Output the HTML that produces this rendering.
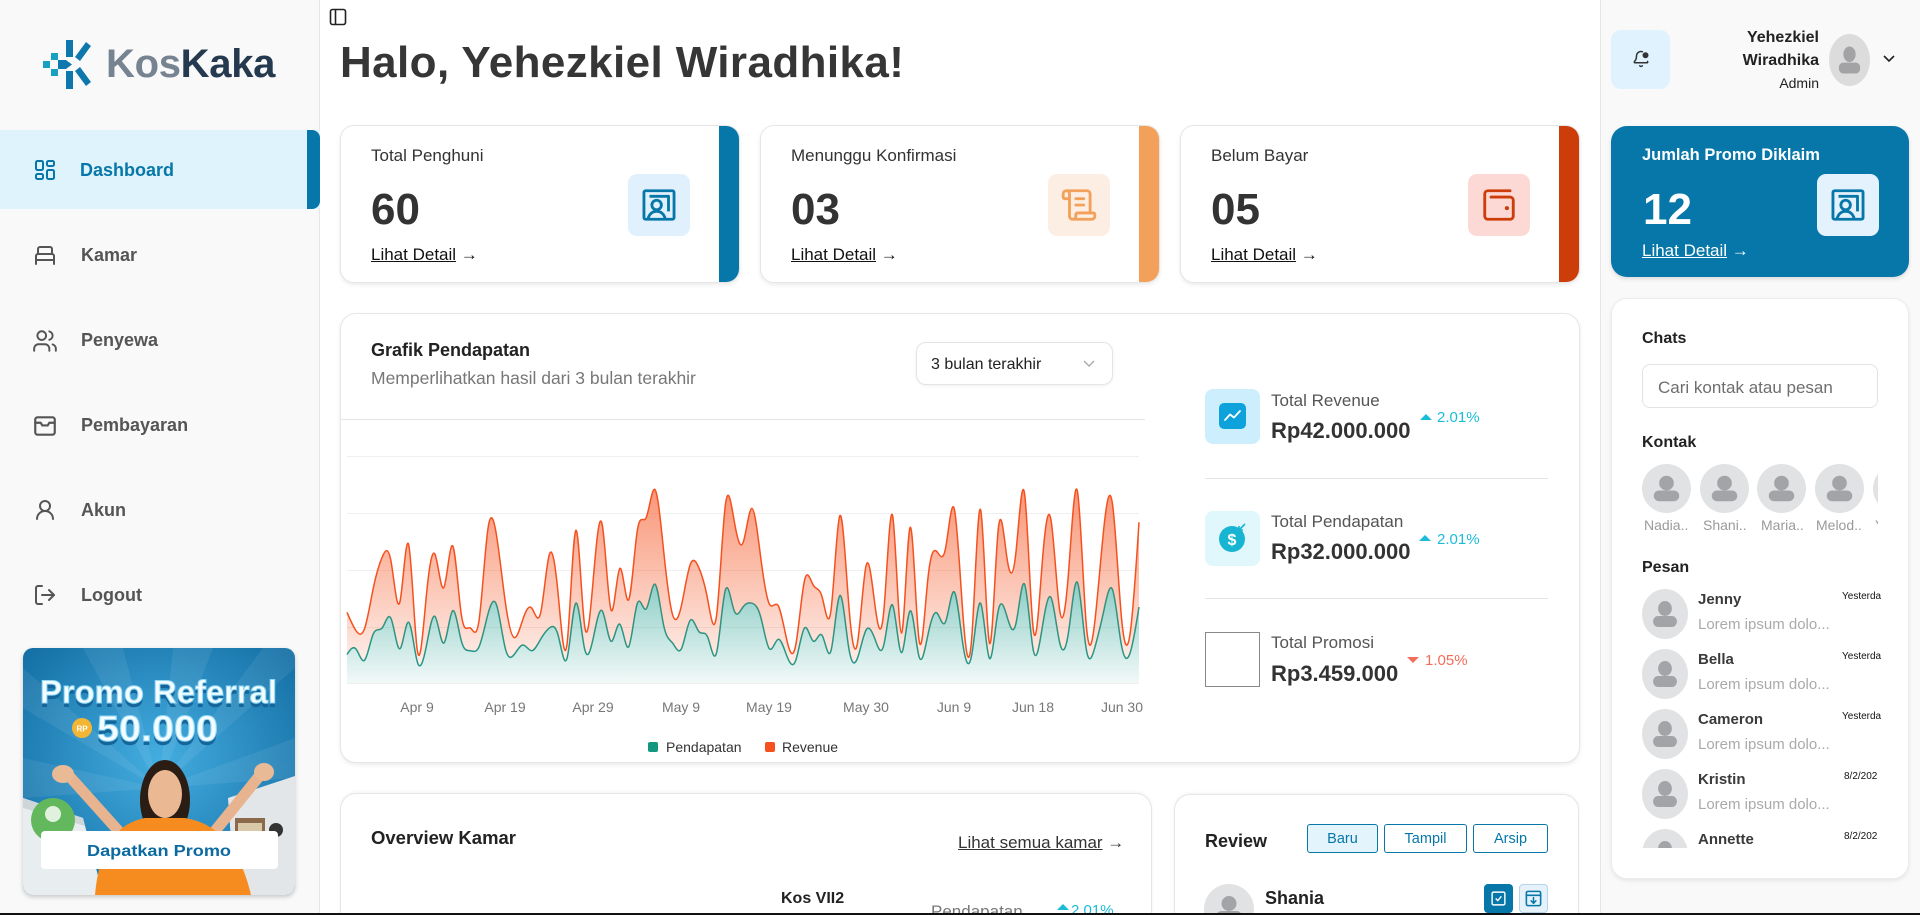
<!DOCTYPE html>
<html><head><meta charset="utf-8">
<style>
*{box-sizing:border-box;margin:0;padding:0}
html,body{width:1920px;height:915px;overflow:hidden;background:#fff;font-family:"Liberation Sans",Arial,sans-serif;color:#333}
#root{position:relative;width:1920px;height:915px;overflow:hidden;background:#fff}
.a{position:absolute}
.t{position:absolute;line-height:1;white-space:nowrap}
.b{font-weight:bold}
.card{position:absolute;background:#fff;border:1px solid #e6e6e6;border-radius:14px;box-shadow:0 2px 4px rgba(0,0,0,.08);overflow:hidden}
.strip{position:absolute;right:0;top:0;width:20px;height:100%}
.ib{position:absolute;width:62px;height:62px;border-radius:9px;display:flex;align-items:center;justify-content:center}
.u{text-decoration:underline}
.nav{font-size:18px;font-weight:bold;color:#555}
.btn{position:absolute;height:29px;border:1px solid #0677a8;border-radius:3px;color:#0677a8;font-size:14.5px;display:flex;align-items:center;justify-content:center;background:#fff}
svg text{font-family:"Liberation Sans",Arial,sans-serif}
</style></head><body>
<div id="root">

<!-- Sidebar -->
<div class="a" style="left:0;top:0;width:320px;height:915px;background:#f9f9f9;border-right:1px solid #e6e6e6"></div>
<svg class="a" style="left:0;top:0" width="100" height="100">
<rect x="66" y="40" width="7" height="17" fill="#0e77ad"/>
<polygon points="75,57 86,42 91,46 80,61" fill="#0e77ad"/>
<polygon points="80,67 91,82 86,86 75,71" fill="#0e77ad"/>
<rect x="66" y="71" width="7" height="18" fill="#0e77ad"/>
<rect x="43" y="61" width="7" height="7" fill="#17a0c0"/>
<rect x="51" y="53" width="7" height="7" fill="#17a0c0"/>
<rect x="51" y="69" width="7" height="7" fill="#17a0c0"/>
<polygon points="58,60 66,60 72,64.5 66,69 58,69" fill="#0e77ad"/>
</svg>
<div class="t b" style="left:106px;top:44px;font-size:40px;letter-spacing:-0.3px"><span style="color:#768391">Kos</span><span style="color:#263a4f">Kaka</span></div>

<div class="a" style="left:0;top:130px;width:320px;height:79px;background:#dff3fd"></div>
<div class="a" style="left:307px;top:130px;width:13px;height:79px;background:#0677a8;border-radius:0 8px 8px 0"></div>

<svg class="a" style="left:33px;top:158px" width="24" height="24" viewBox="0 0 24 24" fill="none" stroke="#0677a8" stroke-width="2" stroke-linejoin="round"><rect x="3" y="3" width="7" height="9" rx="1.5"/><rect x="14" y="3" width="7" height="5" rx="1.5"/><rect x="14" y="12" width="7" height="9" rx="1.5"/><rect x="3" y="16" width="7" height="5" rx="1.5"/></svg>
<div class="t nav" style="left:80px;top:161px;color:#0677a8">Dashboard</div>

<svg class="a" style="left:33px;top:243px" width="24" height="24" viewBox="0 0 24 24" fill="none" stroke="#555" stroke-width="2" stroke-linecap="round" stroke-linejoin="round"><path d="M3 21v-8a2 2 0 0 1 2-2h14a2 2 0 0 1 2 2v8"/><path d="M5 11V6a2 2 0 0 1 2-2h10a2 2 0 0 1 2 2v5"/><path d="M3 17h18"/></svg>
<div class="t nav" style="left:81px;top:246px">Kamar</div>

<svg class="a" style="left:32px;top:328px" width="26" height="26" viewBox="0 0 24 24" fill="none" stroke="#555" stroke-width="1.8" stroke-linecap="round" stroke-linejoin="round"><path d="M16 21v-2a4 4 0 0 0-4-4H6a4 4 0 0 0-4 4v2"/><circle cx="9" cy="7" r="4"/><path d="M22 21v-2a4 4 0 0 0-3-3.87"/><path d="M16 3.13a4 4 0 0 1 0 7.75"/></svg>
<div class="t nav" style="left:81px;top:331px">Penyewa</div>

<svg class="a" style="left:32px;top:413px" width="26" height="26" viewBox="0 0 24 24" fill="none" stroke="#555" stroke-width="2" stroke-linecap="round" stroke-linejoin="round"><rect x="3" y="4" width="18" height="16" rx="2"/><path d="M3 9h5l1.5 2.5h5L16 9h5"/></svg>
<div class="t nav" style="left:81px;top:416px">Pembayaran</div>

<svg class="a" style="left:33px;top:498px" width="24" height="24" viewBox="0 0 24 24" fill="none" stroke="#555" stroke-width="2" stroke-linecap="round"><circle cx="12" cy="8" r="5"/><path d="M20 21a8 8 0 0 0-16 0"/></svg>
<div class="t nav" style="left:81px;top:501px">Akun</div>

<svg class="a" style="left:33px;top:583px" width="24" height="24" viewBox="0 0 24 24" fill="none" stroke="#555" stroke-width="2" stroke-linecap="round" stroke-linejoin="round"><path d="M9 21H5a2 2 0 0 1-2-2V5a2 2 0 0 1 2-2h4"/><path d="M16 17l5-5-5-5"/><path d="M21 12H9"/></svg>
<div class="t nav" style="left:81px;top:586px">Logout</div>

<!-- promo banner -->
<div class="a" style="left:23px;top:648px;width:272px;height:247px;border-radius:10px;box-shadow:0 2px 5px rgba(0,0,0,.2);overflow:hidden">
<svg width="272" height="247" viewBox="0 0 272 247">
<defs>
<radialGradient id="pbg" cx="0.5" cy="0.45" r="0.75"><stop offset="0" stop-color="#44ade0"/><stop offset="1" stop-color="#0d669c"/></radialGradient>
</defs>
<rect width="272" height="247" fill="url(#pbg)"/>
<g fill="#fff" opacity="0.07">
<polygon points="136,140 60,0 100,0"/><polygon points="136,140 150,0 190,0"/><polygon points="136,140 240,0 272,0 272,20"/><polygon points="136,140 0,20 0,60"/><polygon points="136,140 272,90 272,130"/><polygon points="136,140 0,110 0,150"/>
</g>
<polygon points="0,150 60,170 80,247 0,247" fill="#e8edf0"/>
<polygon points="0,150 60,170 62,178 0,160" fill="#cfd6da"/>
<polygon points="205,150 272,128 272,247 212,247" fill="#e2e6e8"/>
<rect x="212" y="170" width="30" height="50" fill="#8b6a4c"/>
<rect x="215" y="175" width="24" height="18" fill="#d9c9a8"/>
<rect x="215" y="197" width="24" height="18" fill="#b7a07f"/>
<circle cx="253" cy="182" r="7" fill="#333"/>
<circle cx="30" cy="172" r="22" fill="#63b85d"/>
<circle cx="30" cy="166" r="8" fill="#fff" opacity="0.8"/>
<path d="M100 188 L48 130" stroke="#e7b48f" stroke-width="11" stroke-linecap="round"/>
<path d="M188 188 L238 126" stroke="#e7b48f" stroke-width="11" stroke-linecap="round"/>
<ellipse cx="40" cy="126" rx="11" ry="9" fill="#e9ba96"/>
<ellipse cx="241" cy="124" rx="10" ry="9" fill="#e9ba96"/>
<ellipse cx="142" cy="152" rx="25" ry="40" fill="#2b1c14"/>
<ellipse cx="142" cy="146" rx="17" ry="24" fill="#eab993"/>
<path d="M72 247 Q78 178 122 170 L162 170 Q212 178 228 247 Z" fill="#f68c1f"/>
<rect x="18" y="183" width="237" height="38" rx="4" fill="#fff"/>
<text x="136" y="208" text-anchor="middle" font-size="16" font-weight="bold" fill="#0b6aa0" textLength="144" lengthAdjust="spacingAndGlyphs">Dapatkan Promo</text>
<text x="17" y="59" font-size="32" font-weight="bold" fill="#15649a" textLength="237" lengthAdjust="spacingAndGlyphs">Promo Referral</text>
<text x="17" y="55" font-size="32" font-weight="bold" fill="#f4fcff" stroke="#8fd8f5" stroke-width="1" textLength="237" lengthAdjust="spacingAndGlyphs">Promo Referral</text>
<circle cx="59" cy="80" r="10" fill="#f2b534"/>
<text x="59" y="83.5" text-anchor="middle" font-size="8" font-weight="bold" fill="#fff">RP</text>
<text x="74" y="97" font-size="36" font-weight="bold" fill="#15649a" textLength="121" lengthAdjust="spacingAndGlyphs">50.000</text>
<text x="74" y="93" font-size="36" font-weight="bold" fill="#f4fcff" stroke="#8fd8f5" stroke-width="1" textLength="121" lengthAdjust="spacingAndGlyphs">50.000</text>
</svg>
</div>

<!-- Right panel -->
<div class="a" style="left:1600px;top:0;width:320px;height:915px;background:#f9f9f9;border-left:1px solid #e6e6e6"></div>

<!-- toggle icon -->
<svg class="a" style="left:329px;top:8px" width="18" height="18" viewBox="0 0 18 18" fill="none" stroke="#222" stroke-width="1.6"><rect x="1.5" y="1.5" width="15" height="15" rx="2"/><path d="M6.5 1.5v15"/></svg>

<div class="t b" style="left:340px;top:41px;font-size:44px;letter-spacing:0.4px;color:#363636">Halo, Yehezkiel Wiradhika!</div>

<!-- Stat cards -->
<div class="card" style="left:340px;top:125px;width:400px;height:158px"><div class="strip" style="background:#0677a8"></div></div>
<div class="card" style="left:760px;top:125px;width:400px;height:158px"><div class="strip" style="background:#f2a05a"></div></div>
<div class="card" style="left:1180px;top:125px;width:400px;height:158px"><div class="strip" style="background:#cc3d0a"></div></div>

<div class="t" style="left:371px;top:147px;font-size:17px">Total Penghuni</div>
<div class="t b" style="left:371px;top:188px;font-size:44px">60</div>
<div class="t" style="left:371px;top:246px;font-size:17px;color:#111"><span class="u">Lihat Detail</span> →</div>
<div class="ib" style="left:628px;top:174px;background:#e1f0fd"><svg width="38" height="38" viewBox="0 0 24 24" fill="none" stroke="#0677a8" stroke-width="1.8" stroke-linejoin="round"><rect x="2.5" y="3" width="19" height="18" rx="1"/><path d="M6 6.5h12v9.5"/><circle cx="10.5" cy="12" r="3"/><path d="M5 21c.8-3.5 3-5 5.5-5s4.7 1.5 5.5 5"/></svg></div>

<div class="t" style="left:791px;top:147px;font-size:17px">Menunggu Konfirmasi</div>
<div class="t b" style="left:791px;top:188px;font-size:44px">03</div>
<div class="t" style="left:791px;top:246px;font-size:17px;color:#111"><span class="u">Lihat Detail</span> →</div>
<div class="ib" style="left:1048px;top:174px;background:#fdeee4"><svg width="38" height="38" viewBox="0 0 24 24" fill="none" stroke="#f2a05a" stroke-width="1.8" stroke-linecap="round" stroke-linejoin="round"><path d="M15 12h-5"/><path d="M15 8h-5"/><path d="M19 17V5a2 2 0 0 0-2-2H4"/><path d="M8 21h12a2 2 0 0 0 2-2v-1a1 1 0 0 0-1-1H11a1 1 0 0 0-1 1v1a2 2 0 1 1-4 0V5a2 2 0 1 0-4 0v2a1 1 0 0 0 1 1h3"/></svg></div>

<div class="t" style="left:1211px;top:147px;font-size:17px">Belum Bayar</div>
<div class="t b" style="left:1211px;top:188px;font-size:44px">05</div>
<div class="t" style="left:1211px;top:246px;font-size:17px;color:#111"><span class="u">Lihat Detail</span> →</div>
<div class="ib" style="left:1468px;top:174px;background:#fdd9d6"><svg width="38" height="38" viewBox="0 0 24 24" fill="none" stroke="#cc3d0a" stroke-width="1.8" stroke-linecap="round" stroke-linejoin="round"><path d="M17 14h.01" stroke-width="2.6"/><path d="M7 7h12a2 2 0 0 1 2 2v10a2 2 0 0 1-2 2H5a2 2 0 0 1-2-2V5a2 2 0 0 1 2-2h14"/></svg></div>

<!-- Top right -->
<div class="a" style="left:1611px;top:30px;width:59px;height:59px;background:#dff2fd;border-radius:10px"></div>
<svg class="a" style="left:1632px;top:50px" width="18" height="18" viewBox="0 0 24 24" fill="none" stroke="#333" stroke-width="2" stroke-linecap="round" stroke-linejoin="round"><path d="M10.3 21a2 2 0 0 0 3.4 0"/><path d="M13.9 2.3A6 6 0 0 0 6 8c0 4.5-1.4 6-2.7 7.3A1 1 0 0 0 4 17h16a1 1 0 0 0 .7-1.7"/><circle cx="18" cy="7" r="3" fill="#333"/></svg>
<div class="t b" style="right:101px;top:30px;font-size:16px;text-align:right;color:#222">Yehezkiel</div>
<div class="t b" style="right:101px;top:53px;font-size:16px;text-align:right;color:#222">Wiradhika</div>
<div class="t" style="right:101px;top:76px;font-size:14px;text-align:right;color:#222">Admin</div>
<svg class="a" style="left:1829px;top:34px" width="41" height="52" viewBox="0 0 50 50" preserveAspectRatio="none"><ellipse cx="25" cy="25" rx="25" ry="25" fill="#dcdcdd"/><circle cx="25" cy="19.5" r="7.5" fill="#a3a3a5"/><rect x="12" y="27.5" width="26" height="10.5" rx="5" fill="#a3a3a5"/></svg>
<svg class="a" style="left:1882px;top:54px" width="14" height="10" viewBox="0 0 14 10" fill="none" stroke="#222" stroke-width="1.6"><path d="M2 2l5 5 5-5"/></svg>

<!-- Promo claimed card -->
<div class="a" style="left:1611px;top:126px;width:298px;height:151px;background:#0677a8;border-radius:16px;box-shadow:0 2px 4px rgba(0,0,0,.12)"></div>
<div class="t b" style="left:1642px;top:147px;font-size:16.5px;color:#fff">Jumlah Promo Diklaim</div>
<div class="t b" style="left:1643px;top:188px;font-size:44px;color:#fff">12</div>
<div class="t" style="left:1642px;top:242px;font-size:17px;color:#fff"><span class="u">Lihat Detail</span> →</div>
<div class="ib" style="left:1817px;top:174px;background:#e3f2fd"><svg width="38" height="38" viewBox="0 0 24 24" fill="none" stroke="#0677a8" stroke-width="1.8" stroke-linejoin="round"><rect x="2.5" y="3" width="19" height="18" rx="1"/><path d="M6 6.5h12v9.5"/><circle cx="10.5" cy="12" r="3"/><path d="M5 21c.8-3.5 3-5 5.5-5s4.7 1.5 5.5 5"/></svg></div>

<!-- Chat card -->
<div class="a" style="left:1611px;top:298px;width:298px;height:581px;background:#fff;border-radius:16px;border:1px solid #ececec;box-shadow:0 2px 4px rgba(0,0,0,.08)"></div>
<div class="t b" style="left:1642px;top:331px;font-size:16px;color:#222">Chats</div>
<div class="a" style="left:1642px;top:364px;width:236px;height:44px;border:1px solid #e2e2e2;border-radius:8px;background:#fff"></div>
<div class="t" style="left:1658px;top:379px;font-size:17px;color:#6e6e6e">Cari kontak atau pesan</div>
<div class="t b" style="left:1642px;top:435px;font-size:16px;color:#222">Kontak</div>
<svg width="0" height="0" style="position:absolute;left:0;top:0"><defs><symbol id="av" viewBox="0 0 50 50" preserveAspectRatio="none"><ellipse cx="25" cy="25" rx="25" ry="25" fill="#e1e2e4"/><circle cx="25" cy="19.5" r="7.5" fill="#a2a4a7"/><rect x="12" y="27" width="26" height="11" rx="5.5" fill="#a2a4a7"/></symbol></defs></svg>
<div class="a" style="left:1642px;top:460px;width:236px;height:80px;overflow:hidden">
<svg class="a" style="left:0;top:4px" width="49" height="49"><use href="#av"/></svg>
<svg class="a" style="left:58px;top:4px" width="49" height="49"><use href="#av"/></svg>
<svg class="a" style="left:115px;top:4px" width="49" height="49"><use href="#av"/></svg>
<svg class="a" style="left:173px;top:4px" width="49" height="49"><use href="#av"/></svg>
<svg class="a" style="left:231px;top:4px" width="5" height="49" viewBox="0 0 5 49"><use href="#av" width="49" height="49"/></svg>
<div class="t" style="left:2px;top:58px;font-size:14px;color:#9a9a9a">Nadia..</div>
<div class="t" style="left:61px;top:58px;font-size:14px;color:#9a9a9a">Shani..</div>
<div class="t" style="left:119px;top:58px;font-size:14px;color:#9a9a9a">Maria..</div>
<div class="t" style="left:174px;top:58px;font-size:14px;color:#9a9a9a">Melod..</div>
<div class="t" style="left:233px;top:58px;width:3px;overflow:hidden;font-size:14px;color:#9a9a9a">Y</div>
</div>
<div class="t b" style="left:1642px;top:560px;font-size:16px;color:#222">Pesan</div>
<div class="a" style="left:1640px;top:582px;width:245px;height:266px;overflow:hidden">
<svg class="a" style="left:2px;top:7px" width="46" height="50"><use href="#av"/></svg>
<div class="t b" style="left:58px;top:10px;font-size:15px;color:#3a3a3a">Jenny</div>
<div class="t" style="left:58px;top:35px;font-size:15px;color:#aaa">Lorem ipsum dolo...</div>
<div class="t" style="left:202px;top:10px;font-size:10px;color:#111">Yesterda</div>
<svg class="a" style="left:2px;top:67px" width="46" height="50"><use href="#av"/></svg>
<div class="t b" style="left:58px;top:70px;font-size:15px;color:#3a3a3a">Bella</div>
<div class="t" style="left:58px;top:95px;font-size:15px;color:#aaa">Lorem ipsum dolo...</div>
<div class="t" style="left:202px;top:70px;font-size:10px;color:#111">Yesterda</div>
<svg class="a" style="left:2px;top:127px" width="46" height="50"><use href="#av"/></svg>
<div class="t b" style="left:58px;top:130px;font-size:15px;color:#3a3a3a">Cameron</div>
<div class="t" style="left:58px;top:155px;font-size:15px;color:#aaa">Lorem ipsum dolo...</div>
<div class="t" style="left:202px;top:130px;font-size:10px;color:#111">Yesterda</div>
<svg class="a" style="left:2px;top:187px" width="46" height="50"><use href="#av"/></svg>
<div class="t b" style="left:58px;top:190px;font-size:15px;color:#3a3a3a">Kristin</div>
<div class="t" style="left:58px;top:215px;font-size:15px;color:#aaa">Lorem ipsum dolo...</div>
<div class="t" style="left:204px;top:190px;font-size:10px;color:#111">8/2/202</div>
<svg class="a" style="left:2px;top:247px" width="46" height="19" viewBox="0 0 46 19"><use href="#av" width="46" height="50"/></svg>
<div class="t b" style="left:58px;top:250px;font-size:15px;color:#3a3a3a">Annette</div>
<div class="t" style="left:204px;top:250px;font-size:10px;color:#111">8/2/202</div>
</div>

<!-- Chart card -->
<div class="a" style="left:340px;top:313px;width:1240px;height:450px;background:#fff;border:1px solid #e6e6e6;border-radius:16px;box-shadow:0 2px 4px rgba(0,0,0,.08)"></div>
<div class="t b" style="left:371px;top:341px;font-size:18px;color:#222">Grafik Pendapatan</div>
<div class="t" style="left:371px;top:370px;font-size:17.5px;color:#777">Memperlihatkan hasil dari 3 bulan terakhir</div>
<div class="a" style="left:916px;top:342px;width:197px;height:43px;border:1px solid #e4e4e4;border-radius:10px;box-shadow:0 1px 3px rgba(0,0,0,.06)"></div>
<div class="t" style="left:931px;top:357px;font-size:16px;color:#222">3 bulan terakhir</div>
<svg class="a" style="left:1082px;top:359px" width="14" height="10" viewBox="0 0 14 10" fill="none" stroke="#aaa" stroke-width="1.4"><path d="M2 2l5 5 5-5"/></svg>
<div class="a" style="left:340px;top:419px;width:805px;height:1px;background:#e4e4e4"></div>

<div class="t" style="left:1271px;top:392px;font-size:17px;color:#555">Total Revenue</div>
<div class="t b" style="left:1271px;top:420px;font-size:22px;color:#333">Rp42.000.000</div>
<div class="t" style="left:1437px;top:410px;font-size:15px;color:#1bbcd8">2.01%</div>
<div class="a" style="left:1205px;top:478px;width:343px;height:1px;background:#e4e4e4"></div>
<div class="t" style="left:1271px;top:513px;font-size:17px;color:#555">Total Pendapatan</div>
<div class="t b" style="left:1271px;top:541px;font-size:22px;color:#333">Rp32.000.000</div>
<div class="t" style="left:1437px;top:532px;font-size:15px;color:#1bbcd8">2.01%</div>
<div class="a" style="left:1205px;top:598px;width:343px;height:1px;background:#e4e4e4"></div>
<div class="t" style="left:1271px;top:634px;font-size:17px;color:#555">Total Promosi</div>
<div class="t b" style="left:1271px;top:663px;font-size:22px;color:#333">Rp3.459.000</div>
<div class="t" style="left:1425px;top:653px;font-size:15px;color:#f36d5a">1.05%</div>

<!-- Overview card -->
<div class="a" style="left:340px;top:793px;width:812px;height:122px;background:#fff;border:1px solid #e6e6e6;border-bottom:none;border-radius:16px 16px 0 0;box-shadow:0 -1px 3px rgba(0,0,0,.05)"></div>
<div class="t b" style="left:371px;top:829px;font-size:18.5px;color:#222">Overview Kamar</div>
<div class="t" style="left:958px;top:834px;font-size:17px;color:#333"><span class="u">Lihat semua kamar</span> →</div>
<div class="t b" style="left:781px;top:891px;font-size:16px;color:#222">Kos VII2</div>
<div class="t" style="left:931px;top:903px;height:10px;overflow:hidden;font-size:17px;color:#777">Pendapatan</div>
<div class="t" style="left:1071px;top:903px;height:10px;overflow:hidden;font-size:15px;color:#1bbcd8">2.01%</div>

<!-- Review card -->
<div class="a" style="left:1174px;top:794px;width:405px;height:121px;background:#fff;border:1px solid #e6e6e6;border-bottom:none;border-radius:16px 16px 0 0;box-shadow:0 -1px 3px rgba(0,0,0,.05)"></div>
<div class="t b" style="left:1205px;top:832px;font-size:18px;color:#222">Review</div>
<div class="btn" style="left:1307px;top:824px;width:71px;background:#e3f4fd">Baru</div>
<div class="btn" style="left:1384px;top:824px;width:83px">Tampil</div>
<div class="btn" style="left:1473px;top:824px;width:75px">Arsip</div>
<svg class="a" style="left:1204px;top:884px" width="50" height="29" viewBox="0 0 50 29"><use href="#av" width="50" height="50"/></svg>
<div class="t b" style="left:1265px;top:889px;font-size:18px;color:#222">Shania</div>
<div class="a" style="left:1484px;top:884px;width:29px;height:29px;background:#0677a8;border-radius:4px"></div>
<svg class="a" style="left:1490px;top:890px" width="17" height="17" viewBox="0 0 24 24" fill="none" stroke="#fff" stroke-width="2"><rect x="3" y="3" width="18" height="18" rx="2"/><path d="M8 12l3 3 5-6"/></svg>
<div class="a" style="left:1519px;top:884px;width:29px;height:29px;background:#e5f2fb;border:1px solid #b5d4e8;border-radius:4px"></div>
<svg class="a" style="left:1524px;top:889px" width="19" height="19" viewBox="0 0 24 24" fill="none" stroke="#0677a8" stroke-width="2" stroke-linecap="round" stroke-linejoin="round"><rect x="3" y="3" width="18" height="18" rx="2"/><path d="M3 8h18"/><path d="M12 11v7"/><path d="M9 15l3 3 3-3"/></svg>

<!-- Chart overlay -->
<svg class="a" style="left:0;top:0" width="1920" height="915">
<defs>
<linearGradient id="go" gradientUnits="userSpaceOnUse" x1="0" y1="490" x2="0" y2="667"><stop offset="0" stop-color="#f4511e" stop-opacity="0.6"/><stop offset="1" stop-color="#f4511e" stop-opacity="0.09"/></linearGradient>
<linearGradient id="gt" gradientUnits="userSpaceOnUse" x1="0" y1="582" x2="0" y2="683"><stop offset="0" stop-color="#1a9a8b" stop-opacity="0.5"/><stop offset="1" stop-color="#1a9a8b" stop-opacity="0.06"/></linearGradient>
</defs>
<g stroke="#efefef" stroke-width="1">
<line x1="347" y1="456.5" x2="1139" y2="456.5"/><line x1="347" y1="513.5" x2="1139" y2="513.5"/><line x1="347" y1="570.5" x2="1139" y2="570.5"/><line x1="347" y1="627.5" x2="1139" y2="627.5"/><line x1="347" y1="683.5" x2="1139" y2="683.5"/>
</g>
<path id="ta" fill="url(#gt)"/>
<path id="tl" fill="none" stroke="#1a9a8b" stroke-width="1.5"/>
<path id="oa" fill="url(#go)"/>
<path id="ol" fill="none" stroke="#f4511e" stroke-width="1.5"/>
<g font-size="14" fill="#777" text-anchor="middle">
<text x="417" y="712">Apr 9</text><text x="505" y="712">Apr 19</text><text x="593" y="712">Apr 29</text><text x="681" y="712">May 9</text><text x="769" y="712">May 19</text><text x="866" y="712">May 30</text><text x="954" y="712">Jun 9</text><text x="1033" y="712">Jun 18</text><text x="1122" y="712">Jun 30</text>
</g>
<rect x="648" y="742" width="10" height="10" rx="2" fill="#14967f"/>
<text x="666" y="752" font-size="14" fill="#333">Pendapatan</text>
<rect x="765" y="742" width="10" height="10" rx="2" fill="#f4511e"/>
<text x="782" y="752" font-size="14" fill="#333">Revenue</text>
<!-- stat icons -->
<rect x="1205" y="389" width="55" height="55" rx="8" fill="#cdeefd"/>
<rect x="1219" y="403" width="27" height="26" rx="5" fill="#0ea2dc"/>
<polyline points="1225,420 1230,414.5 1234,417.5 1240,411" fill="none" stroke="#fff" stroke-width="1.8" stroke-linecap="round" stroke-linejoin="round"/>
<rect x="1205" y="511" width="55" height="55" rx="8" fill="#e0f7fc"/>
<circle cx="1232" cy="539" r="13" fill="#18b5d2"/>
<text x="1232" y="545" text-anchor="middle" font-size="16" font-weight="bold" fill="#fff">$</text>
<path d="M1245 524 l-6 6 M1239 526 v4 h4" stroke="#18b5d2" stroke-width="1.6" fill="none"/>
<rect x="1205.5" y="632.5" width="54" height="54" fill="none" stroke="#888" stroke-width="1"/>
<polygon points="1420,420 1426,414 1432,420" fill="#1bbcd8"/>
<polygon points="1419,541 1425,535 1431,541" fill="#1bbcd8"/>
<polygon points="1407,657 1419,657 1413,663" fill="#f36d5a"/>
<polygon points="1057,910 1063,904 1069,910" fill="#1bbcd8"/>
</svg>

<div class="a" style="left:0;top:913px;width:1920px;height:2px;background:#111"></div>
</div>

<script>
(function(){
var D=[222,97,167,242,373,301,245,409,59,261,327,292,342,137,120,138,446,364,243,89,137,224,138,387,215,75,383,122,315,454,165,293,247,385,481,498,388,149,227,293,335,197,197,448,473,338,499,315,235,177,82,81,252,294,201,213,420,233,78,340,178,178,470,103,439,88,294,323,385,438,155,92,492,81,426,307,371,475,107,341,408,169,317,480,132,141,434,448,149,103,446];
var M=[150,180,120,260,290,340,180,320,110,190,350,210,380,220,170,190,360,410,180,150,200,170,230,290,250,130,420,180,240,380,220,310,190,420,390,520,300,210,180,330,270,240,160,490,380,400,420,350,180,230,140,120,290,220,250,170,460,190,130,280,230,200,410,160,380,140,250,370,320,480,200,150,420,130,380,350,310,520,170,290,450,210,270,530,180,190,380,490,200,160,400];
var n=D.length,xs=[],yt=[],yo=[],k=228/1200;
for(var i=0;i<n;i++){xs.push(347+i*8.8);yt.push(683-M[i]*k);yo.push(683-(M[i]+D[i])*k);}
function cp(x){var n=x.length-1,a=new Array(n),b=new Array(n),r=new Array(n),i,m;
a[0]=0;b[0]=2;r[0]=x[0]+2*x[1];
for(i=1;i<n-1;++i){a[i]=1;b[i]=4;r[i]=4*x[i]+2*x[i+1];}
a[n-1]=2;b[n-1]=7;r[n-1]=8*x[n-1]+x[n];
for(i=1;i<n;++i){m=a[i]/b[i-1];b[i]-=m;r[i]-=m*r[i-1];}
a[n-1]=r[n-1]/b[n-1];
for(i=n-2;i>=0;--i)a[i]=(r[i]-a[i+1])/b[i];
b[n-1]=(x[n]+a[n-1])/2;
for(i=0;i<n-1;++i)b[i]=2*x[i+1]-a[i+1];
return [a,b];}
function f(v){return v.toFixed(2);}
function curve(X,Y,mv){var px=cp(X),py=cp(Y),s=(mv?'M':'L')+f(X[0])+','+f(Y[0]);
for(var i=0;i<X.length-1;i++)s+='C'+f(px[0][i])+','+f(py[0][i])+' '+f(px[1][i])+','+f(py[1][i])+' '+f(X[i+1])+','+f(Y[i+1]);return s;}
var tl=curve(xs,yt,true),ol=curve(xs,yo,true);
var xr=xs.slice().reverse(),ytr=yt.slice().reverse();
document.getElementById('tl').setAttribute('d',tl);
document.getElementById('ol').setAttribute('d',ol);
document.getElementById('ta').setAttribute('d',tl+'L'+f(xs[n-1])+',683L'+f(xs[0])+',683Z');
document.getElementById('oa').setAttribute('d',ol+curve(xr,ytr,false)+'Z');
})();
</script>
</body></html>
